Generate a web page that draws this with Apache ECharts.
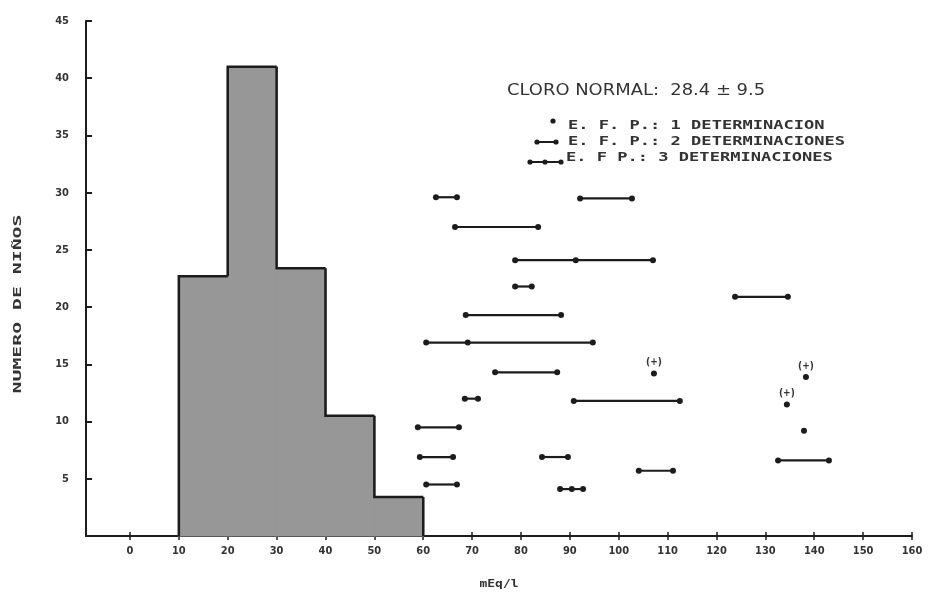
<!DOCTYPE html>
<html>
<head>
<meta charset="utf-8">
<script src="https://cdn.jsdelivr.net/npm/echarts@6/dist/echarts.min.js"></script>
<style>html,body{margin:0;padding:0;background:#fff;}#c{width:934px;height:599px;}</style>
</head>
<body>
<div id="c"></div>
<script>
// ---- data ----
const ticksX = [0,10,20,30,40,50,60,70,80,90,100,110,120,130,140,150,160];
const binLo = [10,20,30,40,50];
const binHi = [20,30,40,50,60];
const binCount = [22.7,41.0,23.4,10.5,3.4];
// rows of patients with 2 or 3 determinations (y = row height, xs = mEq/l values)
const rowY = [29.6,29.5,27.0,24.1,21.8,19.3,16.9,14.3,12.0,11.8,9.5,6.9,6.9,5.7,4.5,4.1,20.9,6.6];
const rowValues = [
  [62.6,66.9],[92.1,102.7],[66.5,83.5],[78.8,91.2,107.0],[78.8,82.2],[68.7,88.2],
  [60.6,69.1,94.7],[74.7,87.4],[68.5,71.2],[90.8,112.5],[58.9,67.3],[59.3,66.1],
  [84.3,89.6],[104.1,111.1],[60.6,66.9],[88.0,90.4,92.7],[123.8,134.6],[132.6,143.0]
];
// single determinations
const singleX = [107.2,138.3,134.4,137.9];
const singleY = [14.2,13.9,11.5,9.2];
const singleMark = ['(+)','(+)','(+)',''];

const FONT = 'DejaVu Sans Condensed';
const INK = '#1c1c1c';

const chart = echarts.init(document.getElementById('c'));
const gridL = 86, gridR = 22, gridT = 21, gridB = 63;

chart.setOption({
  backgroundColor: '#ffffff',
  animation: false,
  grid: {left: gridL, right: gridR, top: gridT, bottom: gridB},
  xAxis: [{
    type: 'value', min: -9, max: 160,
    splitLine: {show: false},
    axisLine: {lineStyle: {color: INK, width: 2}},
    axisTick: {customValues: ticksX, length: 4, lineStyle: {color: INK, width: 1.5}},
    axisLabel: {customValues: ticksX, margin: 10, color: '#333', fontFamily: FONT, fontWeight: 'bold', fontSize: 11}
  },{
    type: 'value', min: -9, max: 160, position: 'bottom',
    splitLine: {show: false},
    axisLine: {show: false},
    axisTick: {customValues: ticksX, inside: true, length: 4, lineStyle: {color: INK, width: 1.5}},
    axisLabel: {show: false}
  }],
  yAxis: {
    type: 'value', min: 0, max: 45, interval: 5,
    splitLine: {show: false},
    axisLine: {show: true, onZero: false, lineStyle: {color: INK, width: 2}},
    axisTick: {show: true, inside: true, length: 6, lineStyle: {color: INK, width: 2}},
    axisLabel: {margin: 17, color: '#333', fontFamily: FONT, fontWeight: 'bold', fontSize: 11,
      formatter: v => v === 0 ? '' : String(v)}
  },
  series: [
    {
      type: 'custom',
      coordinateSystem: 'cartesian2d',
      data: binCount.map((c, i) => [binLo[i], binHi[i], c]),
      encode: {x: [0, 1], y: 2},
      renderItem: function (params, api) {
        const i = params.dataIndex;
        const lo = api.value(0), hi = api.value(1), h = api.value(2);
        const prevH = i === 0 ? 0 : binCount[i - 1];
        const p0 = api.coord([lo, 0]);
        const p1 = api.coord([hi, h]);
        const children = [{
          type: 'rect',
          shape: {x: p0[0] - 0.5, y: p1[1], width: p1[0] - p0[0] + 1, height: p0[1] - p1[1]},
          style: {fill: '#979797', stroke: '#979797', lineWidth: 1}
        }];
        const a = api.coord([lo, prevH]), b = api.coord([lo, h]);
        children.push({type: 'polyline', shape: {points: [a, b, [p1[0], p1[1]]]},
          style: {stroke: INK, lineWidth: 2.5, fill: null}, z2: 5});
        if (i === binCount.length - 1) {
          const z = api.coord([hi, 0]);
          children.push({type: 'line', shape: {x1: p1[0], y1: p1[1], x2: z[0], y2: z[1]},
            style: {stroke: INK, lineWidth: 2.5}, z2: 5});
        }
        return {type: 'group', children: children};
      },
      z: 2
    },
    {
      type: 'custom',
      coordinateSystem: 'cartesian2d',
      data: rowY.map((y, i) => [rowValues[i][0], y]),
      encode: {x: 0, y: 1},
      renderItem: function (params, api) {
        const i = params.dataIndex;
        const pts = rowValues[i].map(v => api.coord([v, rowY[i]]));
        const children = [{type: 'polyline', shape: {points: pts},
          style: {stroke: INK, lineWidth: 2.2, fill: null}}];
        pts.forEach(p => children.push({type: 'circle', shape: {cx: p[0], cy: p[1], r: 3},
          style: {fill: INK}}));
        return {type: 'group', children: children};
      },
      z: 3
    },
    {
      type: 'scatter',
      data: singleX.map((x, i) => [x, singleY[i], singleMark[i]]),
      symbol: 'circle', symbolSize: 6,
      itemStyle: {color: INK, opacity: 1},
      label: {show: true, position: 'top', distance: 3, formatter: p => p.value[2],
        color: '#333', fontFamily: FONT, fontWeight: 'bold', fontSize: 10},
      z: 3
    }
  ],
  graphic: [
    {type: 'text', x: 507, y: 91, scaleX: 1.12, style: {text: 'CLORO NORMAL:  28.4 ± 9.5', font: '16px "DejaVu Sans"',
      fill: '#333', textVerticalAlign: 'middle'}},
    {type: 'circle', shape: {cx: 553, cy: 121, r: 2.6}, style: {fill: INK}},
    {type: 'line', shape: {x1: 537, y1: 142, x2: 556, y2: 142}, style: {stroke: INK, lineWidth: 2}},
    {type: 'circle', shape: {cx: 537, cy: 142, r: 2.6}, style: {fill: INK}},
    {type: 'circle', shape: {cx: 556, cy: 142, r: 2.6}, style: {fill: INK}},
    {type: 'line', shape: {x1: 530, y1: 162, x2: 561, y2: 162}, style: {stroke: INK, lineWidth: 2}},
    {type: 'circle', shape: {cx: 530, cy: 162, r: 2.6}, style: {fill: INK}},
    {type: 'circle', shape: {cx: 545, cy: 162, r: 2.6}, style: {fill: INK}},
    {type: 'circle', shape: {cx: 561, cy: 162, r: 2.6}, style: {fill: INK}},
    {type: 'text', x: 568, y: 126, scaleX: 1.42, style: {text: 'E. F. P.: 1 DETERMINACION',
      font: 'bold 12px "DejaVu Sans Mono"', fill: '#333', textVerticalAlign: 'middle'}},
    {type: 'text', x: 568, y: 142, scaleX: 1.42, style: {text: 'E. F. P.: 2 DETERMINACIONES',
      font: 'bold 12px "DejaVu Sans Mono"', fill: '#333', textVerticalAlign: 'middle'}},
    {type: 'text', x: 566, y: 158, scaleX: 1.42, style: {text: 'E. F P.: 3 DETERMINACIONES',
      font: 'bold 12px "DejaVu Sans Mono"', fill: '#333', textVerticalAlign: 'middle'}},
    {type: 'text', x: 18, y: 304, rotation: Math.PI / 2, scaleX: 1.8, style: {text: 'NUMERO DE NIÑOS',
      font: 'bold 11px "DejaVu Sans Mono"', fill: '#333', textAlign: 'center', textVerticalAlign: 'middle'}},
    {type: 'text', x: 499, y: 584, scaleX: 1.3, style: {text: 'mEq/l',
      font: 'bold 10px "DejaVu Sans Mono"', fill: '#333', textAlign: 'center', textVerticalAlign: 'middle'}}
  ]
});
</script>
</body>
</html>
